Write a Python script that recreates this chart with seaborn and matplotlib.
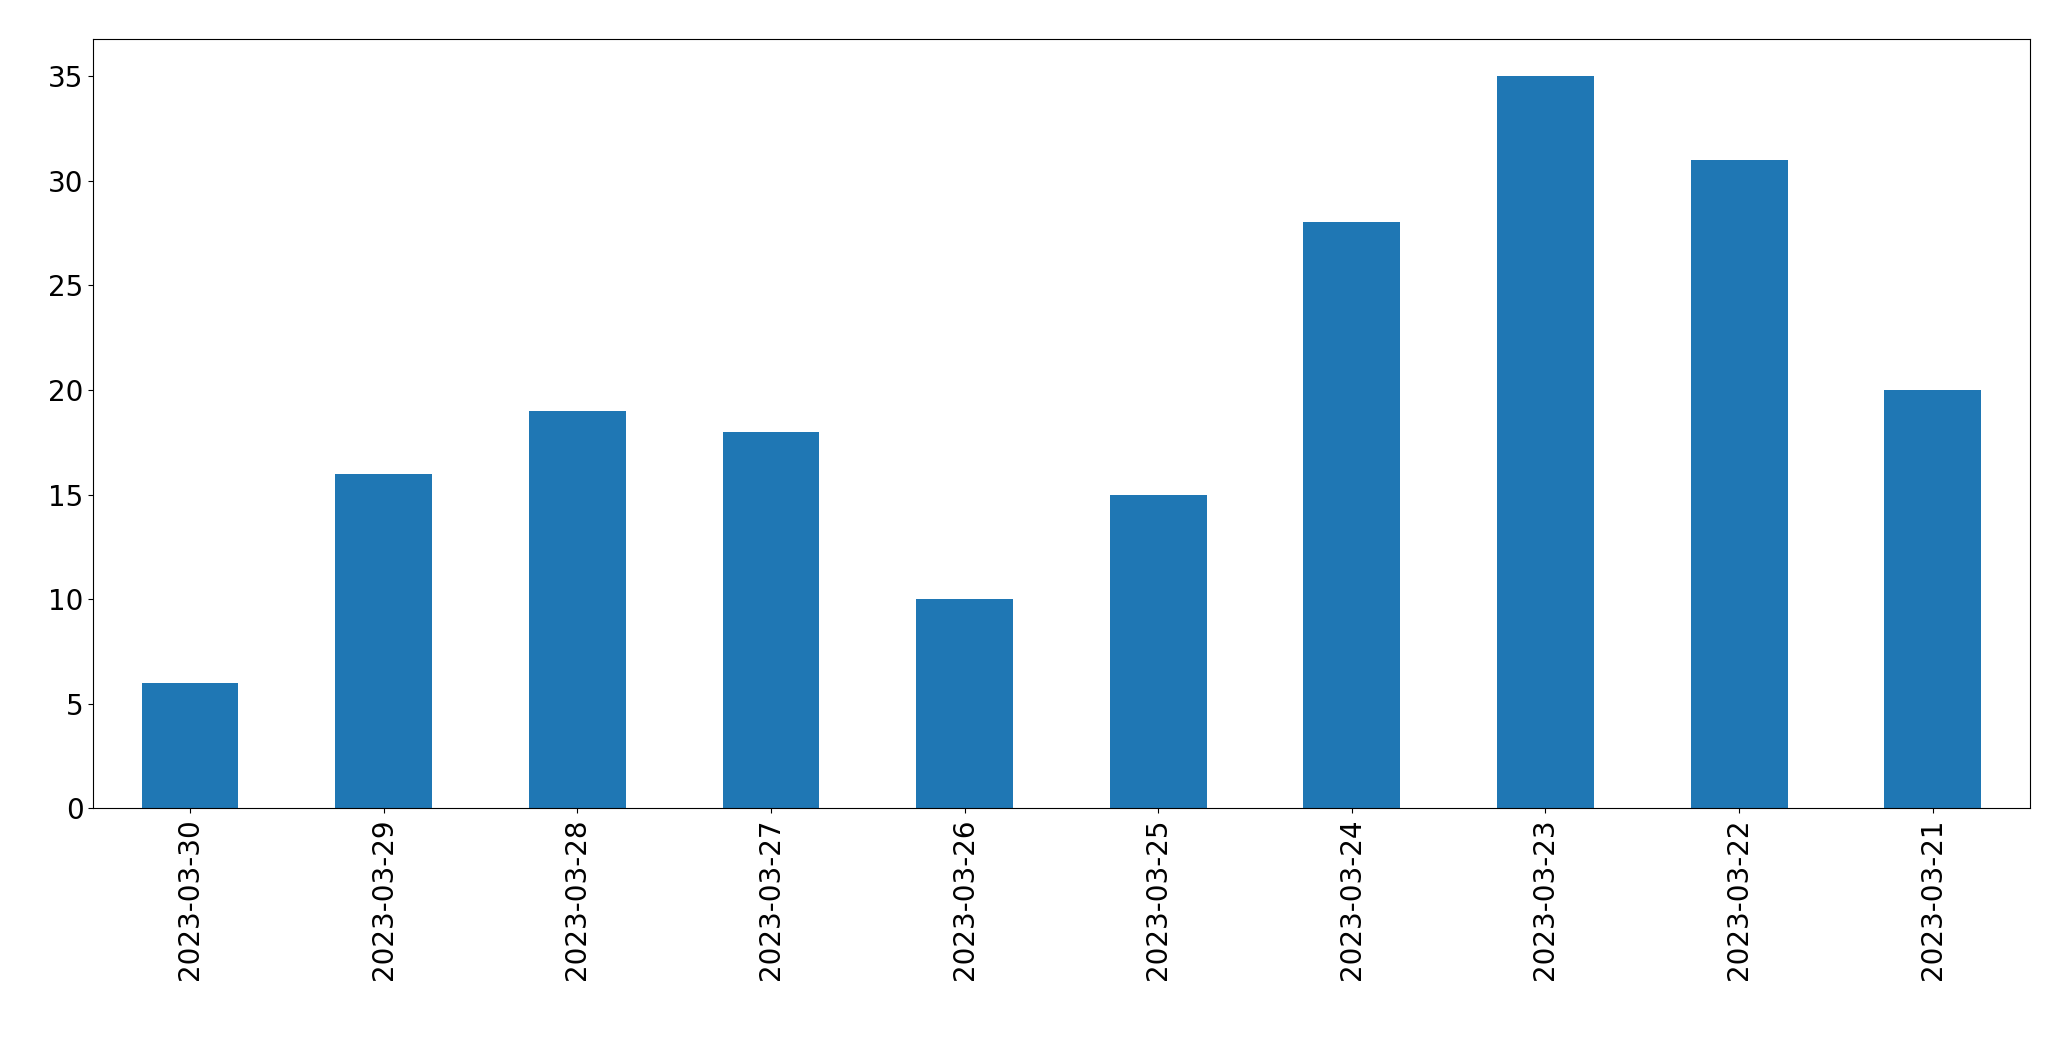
import matplotlib
matplotlib.use("Agg")
import matplotlib.pyplot as plt
import seaborn as sns
import pandas as pd

dates = ['2023-03-30', '2023-03-29', '2023-03-28', '2023-03-27', '2023-03-26',
         '2023-03-25', '2023-03-24', '2023-03-23', '2023-03-22', '2023-03-21']
counts = [6, 16, 19, 18, 10, 15, 28, 35, 31, 20]

df = pd.DataFrame({'date': dates, 'count': counts})

fig, ax = plt.subplots(figsize=(20.71, 10.61), dpi=100)
fig.subplots_adjust(left=0.045, right=0.98, top=0.963, bottom=0.238)

sns.barplot(data=df, x='date', y='count', color='#1f77b4', saturation=1, width=0.5, ax=ax)
ax.set_xlim(-0.5, len(dates) - 0.5)
ax.set_xlabel('')
ax.set_ylabel('')
ax.tick_params(axis='both', labelsize=20)
ax.tick_params(axis='x', rotation=90)

fig.savefig('out.png')
